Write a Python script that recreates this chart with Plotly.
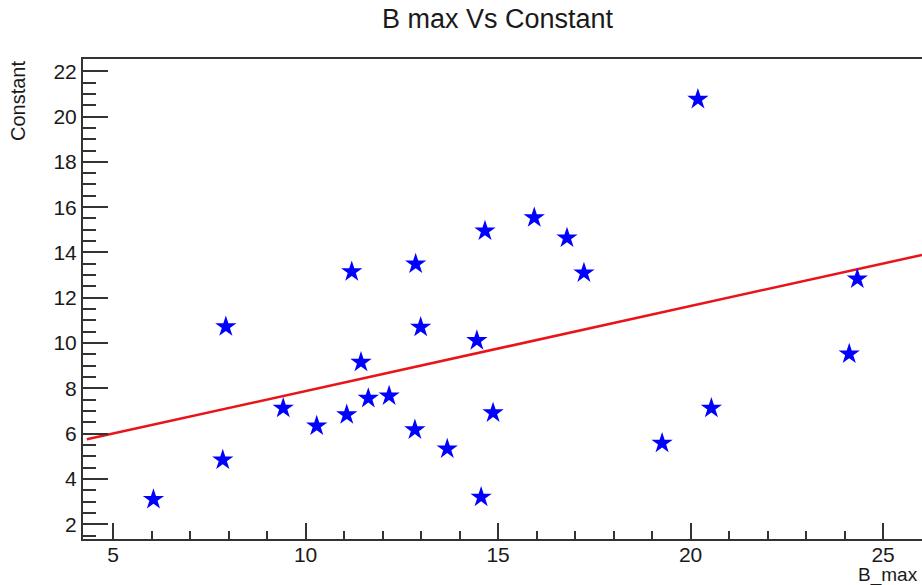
import plotly.graph_objects as go

# Data
b_max = [6.05, 7.85, 7.93, 9.42, 10.29, 11.07, 11.20, 11.44, 11.63, 12.17,
         12.84, 12.86, 12.99, 13.68, 14.45, 14.56, 14.66, 14.87, 15.94, 16.79,
         17.23, 19.26, 20.19, 20.54, 24.12, 24.33]
constant = [3.10, 4.84, 10.72, 7.12, 6.34, 6.84, 13.15, 9.15, 7.56, 7.67,
            6.17, 13.49, 10.70, 5.33, 10.11, 3.20, 14.95, 6.92, 15.53, 14.64,
            13.10, 5.58, 20.76, 7.12, 9.52, 12.83]

# Fitted line end points
fit_x = [4.32, 26.01]
fit_y = [5.75, 13.89]

x_ticks = [5, 10, 15, 20, 25]
y_ticks = [2, 4, 6, 8, 10, 12, 14, 16, 18, 20, 22]

FONT = "Liberation Sans, Arial, Helvetica, sans-serif"

fig = go.Figure()
fig.add_trace(go.Scatter(
    x=fit_x, y=fit_y, mode="lines",
    line=dict(color="#e8141a", width=2.5),
    hoverinfo="skip", showlegend=False))
fig.add_trace(go.Scatter(
    x=b_max, y=constant, mode="markers",
    marker=dict(symbol="star", size=16, color="#0000ff",
                line=dict(width=0)),
    showlegend=False))

axis_common = dict(
    showgrid=False, zeroline=False, automargin=False,
    showline=True, linecolor="#333333", linewidth=2,
    ticks="inside", tickcolor="#333333", tickwidth=1.5,
    tickfont=dict(family=FONT, size=21, color="#1a1a1a"),
)

fig.update_xaxes(
    range=[4.22, 26.01], tickvals=x_ticks, ticklen=16,
    mirror=True, ticklabelstandoff=-4,
    minor=dict(dtick=1, tick0=5, ticks="inside", ticklen=8,
               tickcolor="#333333", tickwidth=1.5),
    **axis_common)
fig.update_yaxes(
    range=[1.35, 22.54], tickvals=y_ticks, ticklen=25,
    minor=dict(dtick=0.5, tick0=2, ticks="inside", ticklen=13,
               tickcolor="#333333", tickwidth=1.5),
    **axis_common)

fig.update_layout(
    template="none",
    width=922, height=585,
    margin=dict(l=83, r=0, t=59, b=46, autoexpand=False),
    paper_bgcolor="white", plot_bgcolor="white",
    font=dict(family=FONT, color="#1a1a1a"),
    annotations=[
        dict(text="B max Vs Constant", xref="paper", yref="paper",
             x=0.495, y=1.0, yshift=40, xanchor="center", yanchor="middle",
             showarrow=False, font=dict(family=FONT, size=27, color="#1a1a1a")),
        dict(text="Constant", xref="paper", yref="paper",
             x=0, xshift=-65, y=1.0, yanchor="top", xanchor="center",
             textangle=-90, showarrow=False,
             font=dict(family=FONT, size=20, color="#1a1a1a")),
        dict(text="B_max", xref="paper", yref="paper",
             x=1.0, xshift=-2, y=0, yshift=-36, xanchor="right", yanchor="middle",
             showarrow=False, font=dict(family=FONT, size=19, color="#1a1a1a")),
    ],
)

fig.write_html(
    "out.html",
    config={"displayModeBar": False},
    post_script="document.body.style.margin='0';document.body.style.overflow='hidden';",
)
